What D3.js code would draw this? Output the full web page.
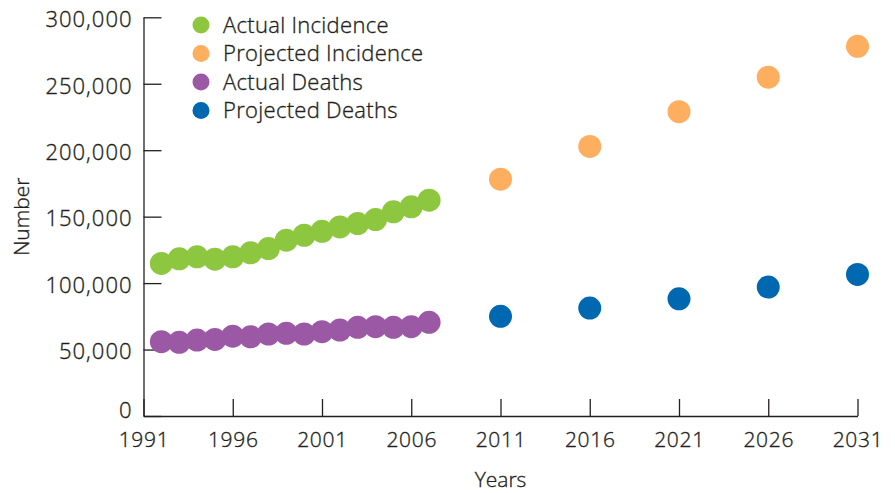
<!DOCTYPE html>
<html>
<head>
<meta charset="utf-8">
<script src="https://cdn.jsdelivr.net/npm/d3@7"></script>
<style>
  body { margin: 0; background: #fff; }
  text { font-family: "Open Sans", sans-serif; font-weight: 300; fill: #231f20; stroke: #231f20; stroke-width: 0.35; }
</style>
</head>
<body>
<div id="chart"></div>
<script>
const w = 895;
const h = 493;

// data
const actualYears = [1992, 1993, 1994, 1995, 1996, 1997, 1998, 1999, 2000, 2001, 2002, 2003, 2004, 2005, 2006, 2007];
const actualIncidence = [114800, 118300, 119800, 118000, 119800, 122800, 126000, 132300, 136000, 139000, 142300, 144800, 147800, 153600, 157400, 162400];
const actualDeaths = [55900, 55400, 57100, 57600, 60100, 59600, 61700, 62200, 61700, 63400, 64700, 66700, 67200, 66700, 67200, 70500];
const projYears = [2011, 2016, 2021, 2026, 2031];
const projIncidence = [178200, 202800, 229000, 254900, 278200];
const projDeaths = [75000, 81200, 88200, 97000, 106500];
const xTicks = [1991, 1996, 2001, 2006, 2011, 2016, 2021, 2026, 2031];
const yTicks = [0, 50000, 100000, 150000, 200000, 250000, 300000];
const seriesNames = ["Actual Incidence", "Projected Incidence", "Actual Deaths", "Projected Deaths"];
const seriesColors = ["#8dc63f", "#fdae5f", "#9b59a5", "#0067b1"];

const x = d3.scaleLinear().domain([1991, 2031]).range([143.5, 857.5]);
const y = d3.scaleLinear().domain([0, 300000]).range([416, 17.3]);

const svg = d3.select("#chart")
    .append("svg")
    .attr("width", w)
    .attr("height", h);

// Y axis
const yAxis = svg.append("g")
    .attr("transform", "translate(" + x(1991) + ",0)")
    .call(d3.axisLeft(y)
        .tickValues(yTicks)
        .tickFormat(d3.format(","))
        .tickSizeInner(-18)
        .tickSizeOuter(0)
        .tickPadding(11));
yAxis.selectAll("text")
    .attr("font-size", 22)
    .attr("letter-spacing", 1)
    .attr("dy", d => d == 0 ? "0.05em" : "0.42em");

// X axis
const xAxis = svg.append("g")
    .attr("transform", "translate(0," + y(0) + ")")
    .call(d3.axisBottom(x)
        .tickValues(xTicks)
        .tickFormat(d3.format("d"))
        .tickSizeInner(-17)
        .tickSizeOuter(0)
        .tickPadding(16));
xAxis.selectAll("text")
    .attr("font-size", 21)
    .attr("letter-spacing", 0.7);

svg.selectAll(".domain, .tick line")
    .attr("stroke", "#231f20")
    .attr("stroke-width", 1.3);
svg.selectAll(".tick text").attr("fill", "#231f20")
    .style("font-family", "'Open Sans', sans-serif")
    .style("font-weight", 300);

// axis titles
svg.append("text")
    .attr("x", x(2011))
    .attr("y", 487)
    .attr("text-anchor", "middle")
    .attr("font-size", 21)
    .text("Years");
svg.append("text")
    .attr("transform", "translate(29," + y(150000) + ") rotate(-90)")
    .attr("text-anchor", "middle")
    .attr("font-size", 21)
    .text("Number");

// points
const drawDots = (years, vals, col) => {
    svg.append("g")
        .selectAll("circle")
        .data(years)
        .enter()
        .append("circle")
        .attr("cx", d => x(d))
        .attr("cy", (d, i) => y(vals[i]))
        .attr("r", 11.5)
        .attr("fill", col);
};
drawDots(actualYears, actualIncidence, seriesColors[0]);
drawDots(projYears, projIncidence, seriesColors[1]);
drawDots(actualYears, actualDeaths, seriesColors[2]);
drawDots(projYears, projDeaths, seriesColors[3]);

// legend
const legend = svg.append("g")
    .selectAll("g")
    .data(seriesNames)
    .enter()
    .append("g")
    .attr("transform", (d, i) => "translate(201," + (25 + i * 28.5) + ")");
legend.append("circle")
    .attr("r", 8.5)
    .attr("fill", (d, i) => seriesColors[i]);
legend.append("text")
    .attr("x", 22)
    .attr("dy", "0.36em")
    .attr("font-size", 22)
    .attr("letter-spacing", 0.3)
    .text(d => d);
</script>
</body>
</html>
